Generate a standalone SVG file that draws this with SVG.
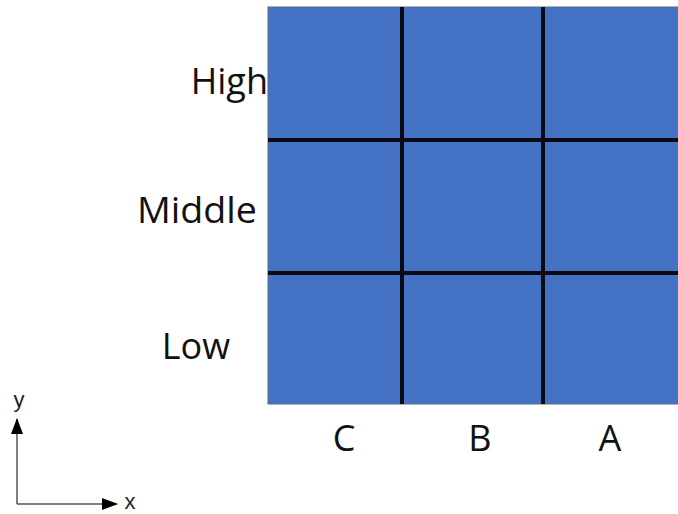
<svg xmlns="http://www.w3.org/2000/svg" width="678" height="514" viewBox="0 0 678 514">
<defs>
<style>
.lbl{font-family:"Open Sans","Noto Sans",sans-serif;font-size:36px;fill:#111}
.cell{fill:#4472C4}
.grid{stroke:#0a0a14;stroke-width:4;fill:none}
.ax{stroke:#555;stroke-width:1.5;fill:none}
.axl{font-family:"Liberation Sans",Arial,sans-serif;font-size:22px;fill:#222}
</style>
<marker id="ah" viewBox="0 0 16 12" refX="15" refY="6" markerWidth="16" markerHeight="12" markerUnits="userSpaceOnUse" orient="auto">
<path d="M0,0 L16,6 L0,12 Z" fill="#000"/>
</marker>
</defs>
<g id="grid">
<rect class="cell" x="268" y="7" width="412" height="397" stroke="#5b6a8a" stroke-width="1"/>
<g class="grid">
<line x1="402" y1="7" x2="402" y2="404"/>
<line x1="543" y1="7" x2="543" y2="404"/>
<line x1="268" y1="140" x2="678" y2="140"/>
<line x1="268" y1="273" x2="678" y2="273"/>
</g>
</g>
<g id="labels">
<text class="lbl" x="268" y="94" text-anchor="end">High</text>
<text class="lbl" x="197" y="223" text-anchor="middle" textLength="120" lengthAdjust="spacingAndGlyphs">Middle</text>
<text class="lbl" x="196" y="359" text-anchor="middle">Low</text>
<text class="lbl" x="344" y="451" text-anchor="middle">C</text>
<text class="lbl" x="480" y="451" text-anchor="middle">B</text>
<text class="lbl" x="610" y="451" text-anchor="middle">A</text>
</g>
<g id="connectors">
<path class="ax" d="M17,504 L17,419" marker-end="url(#ah)"/>
<path class="ax" d="M17,504 L117,504" marker-end="url(#ah)"/>
</g>
<g id="axis-labels">
<text class="axl" x="19" y="407" text-anchor="middle">y</text>
<text class="axl" x="130" y="509" text-anchor="middle">x</text>
</g>
</svg>
